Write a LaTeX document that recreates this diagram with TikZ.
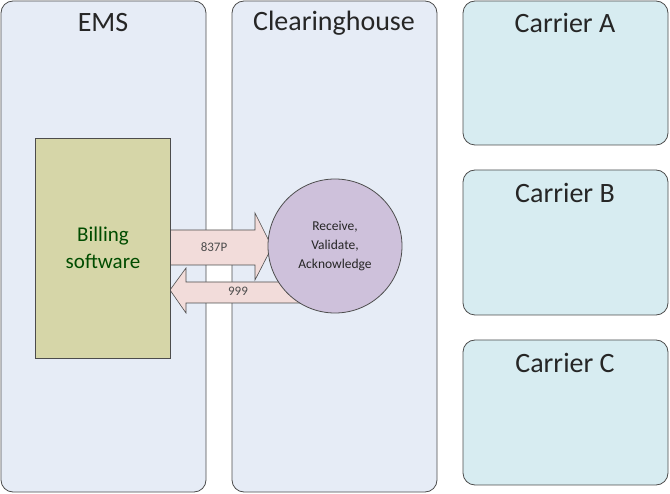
\documentclass[tikz,border=0pt]{standalone}
\usepackage{fontspec}
\setmainfont{Carlito}
\begin{document}
\begin{tikzpicture}[x=1pt, y=-1pt,
    panel/.style={draw=black!70, fill=panelfill, rounded corners=12pt, line width=0.8pt},
    carrier/.style={draw=black!70, fill=carrierfill, rounded corners=12pt, line width=0.8pt},
    title/.style={font=\fontsize{28}{32}\selectfont, text=black!85},
    fatarrow/.style={draw=black!70, fill=arrowfill, line width=0.6pt}
]
    \definecolor{panelfill}{HTML}{E6ECF6}
    \definecolor{carrierfill}{HTML}{D7ECF1}
    \definecolor{billfill}{HTML}{D6D6A8}
    \definecolor{circfill}{HTML}{CEC1DB}
    \definecolor{arrowfill}{HTML}{F2DCDA}
    \useasboundingbox (0,0) rectangle (670,494);
    \draw[panel] (1,1) rectangle (206,492);
    \draw[panel] (232,1) rectangle (437,492);
    \draw[carrier] (463,1) rectangle (668,145);
    \draw[carrier] (463,170) rectangle (668,315);
    \draw[carrier] (463,340) rectangle (668,485);
    \node[title] (ems) at (103,23) {EMS};
    \node[title] (ch) at (334,23) {Clearinghouse};
    \node[title] (ca) at (565,23) {Carrier A};
    \node[title] (cb) at (565,193) {Carrier B};
    \node[title] (cc) at (565,363) {Carrier C};
    \draw[fatarrow] (170,230) -- (255,230) -- (255,213) -- (272,247) -- (255,280)
        -- (255,265) -- (170,265) -- cycle;
    \node[font=\fontsize{13}{15}\selectfont, text=black!70] (p837) at (214,247) {837P};
    \draw[fatarrow] (300,282) -- (186,282) -- (186,268) -- (170,290) -- (186,313)
        -- (186,303) -- (300,303) -- cycle;
    \node[font=\fontsize{13}{15}\selectfont, text=black!70] (n999) at (238,291) {999};
    \node[draw=black!70, fill=billfill, line width=0.8pt, minimum width=135pt,
        minimum height=220pt, text=green!30!black, align=center,
        font=\fontsize{21}{27}\selectfont] (bill) at (103,248) {Billing\\software};
    \node[circle, draw=black!70, fill=circfill, line width=0.8pt, minimum size=134pt,
        inner sep=0pt, align=center, font=\fontsize{13.5}{19}\selectfont, text=black!85] (rva)
        at (335,246) {Receive,\\Validate,\\Acknowledge};
\end{tikzpicture}
\end{document}
